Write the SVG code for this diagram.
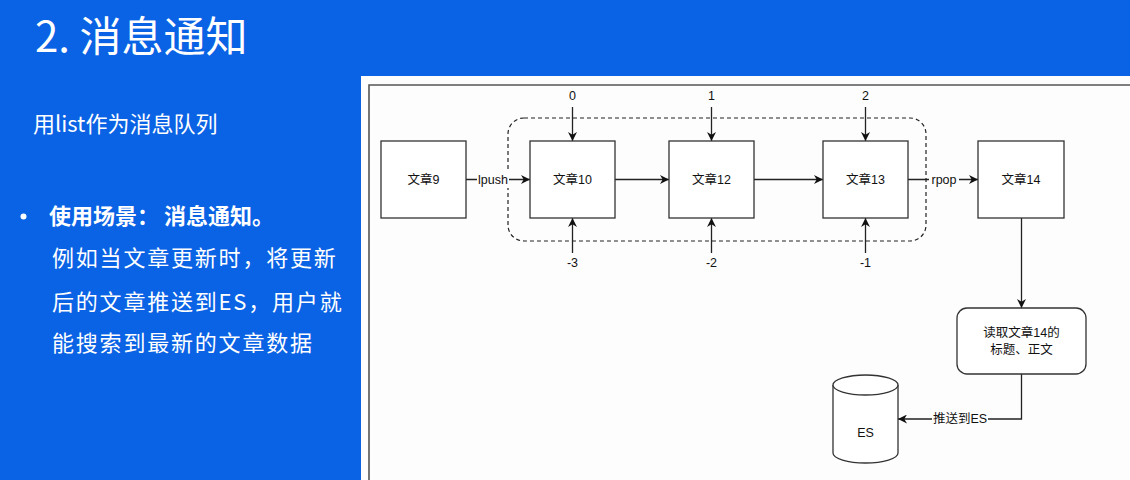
<svg xmlns="http://www.w3.org/2000/svg" width="1130" height="480" viewBox="0 0 1130 480">
<defs>
<style>
.slide{font-family:"Noto Sans CJK SC","Noto Sans",sans-serif;fill:#ffffff}
.box{fill:#ffffff;stroke:#333333;stroke-width:1.3}
.lbl{font-family:"Liberation Sans","Noto Sans CJK SC",sans-serif;font-size:12.5px;fill:#111111;text-anchor:middle;dominant-baseline:central}
.edge{fill:none;stroke:#222222;stroke-width:1.3}
.elbl{font-family:"Liberation Sans","Noto Sans CJK SC",sans-serif;font-size:12.5px;fill:#111111;text-anchor:middle;dominant-baseline:central}
</style>
<marker id="arr" viewBox="0 0 10 10" refX="10" refY="5" markerWidth="9" markerHeight="9" markerUnits="userSpaceOnUse" orient="auto">
<path d="M0,0 L10,5 L0,10 L3,5 Z" fill="#111111"/>
</marker>
</defs>
<rect x="0" y="0" width="1130" height="480" fill="#0a62e4"/>
<g id="slide-text">
<text class="slide" x="35" y="52" font-size="42">2. 消息通知</text>
<text class="slide" x="33" y="132" font-size="22">用list作为消息队列</text>
<circle cx="23.5" cy="216.5" r="3" fill="#ffffff"/>
<text class="slide" x="49" y="224" font-size="22" font-weight="bold">使用场景： 消息通知。</text>
<text class="slide" x="52" y="266" font-size="22" letter-spacing="1.8">例如当文章更新时，将更新</text>
<text class="slide" x="52" y="310" font-size="22" letter-spacing="1.8">后的文章推送到ES，用户就</text>
<text class="slide" x="52" y="351" font-size="22" letter-spacing="1.8">能搜索到最新的文章数据</text>
</g>
<rect x="361" y="76" width="769" height="404" fill="#fdfdfd"/>
<path d="M369,480 V85 H1130" fill="none" stroke="#555555" stroke-width="1.6"/>
<g id="queue-frame">
<rect x="508" y="118" width="418" height="123" rx="16" ry="16" fill="none" stroke="#222222" stroke-width="1.2" stroke-dasharray="4 3"/>
</g>
<g id="connectors">
<path class="edge" d="M466,179.5 H530" marker-end="url(#arr)"/>
<path class="edge" d="M615,179.5 H669" marker-end="url(#arr)"/>
<path class="edge" d="M754,179.5 H823" marker-end="url(#arr)"/>
<path class="edge" d="M908,179.5 H978" marker-end="url(#arr)"/>
<path class="edge" d="M1021.5,218 V308" marker-end="url(#arr)"/>
<path class="edge" d="M1021.5,374 V419 H898" marker-end="url(#arr)"/>
<path class="edge" d="M572.5,107 V141" marker-end="url(#arr)"/>
<path class="edge" d="M711.5,107 V141" marker-end="url(#arr)"/>
<path class="edge" d="M865.5,107 V141" marker-end="url(#arr)"/>
<path class="edge" d="M572.5,253 V218" marker-end="url(#arr)"/>
<path class="edge" d="M711.5,253 V218" marker-end="url(#arr)"/>
<path class="edge" d="M865.5,253 V218" marker-end="url(#arr)"/>
<rect x="477" y="171" width="32" height="17" fill="#fdfdfd"/>
<text class="elbl" x="493" y="179.5">lpush</text>
<rect x="929" y="171" width="30" height="17" fill="#fdfdfd"/>
<text class="elbl" x="944" y="179.5">rpop</text>
<rect x="932" y="410" width="56" height="18" fill="#fdfdfd"/>
<text class="elbl" x="960" y="418.5">推送到ES</text>
<text class="elbl" x="572.5" y="96">0</text>
<text class="elbl" x="711.5" y="96">1</text>
<text class="elbl" x="865.5" y="96">2</text>
<text class="elbl" x="572.5" y="263">-3</text>
<text class="elbl" x="711.5" y="263">-2</text>
<text class="elbl" x="865.5" y="263">-1</text>
</g>
<g id="node-9">
<rect class="box" x="381" y="141" width="85" height="77"/>
<text class="lbl" x="423.5" y="179.5">文章9</text>
</g>
<g id="node-10">
<rect class="box" x="530" y="141" width="85" height="77"/>
<text class="lbl" x="572.5" y="179.5">文章10</text>
</g>
<g id="node-12">
<rect class="box" x="669" y="141" width="85" height="77"/>
<text class="lbl" x="711.5" y="179.5">文章12</text>
</g>
<g id="node-13">
<rect class="box" x="823" y="141" width="85" height="77"/>
<text class="lbl" x="865.5" y="179.5">文章13</text>
</g>
<g id="node-14">
<rect class="box" x="978" y="141" width="86" height="77"/>
<text class="lbl" x="1021" y="179.5">文章14</text>
</g>
<g id="node-read">
<rect class="box" x="957" y="308" width="129" height="66" rx="10" ry="10"/>
<text class="lbl" x="1021.5" y="333">读取文章14的</text>
<text class="lbl" x="1021.5" y="350">标题、正文</text>
</g>
<g id="node-es">
<path class="box" d="M833,385 A32.5,10 0 0 1 898,385 V453 A32.5,10 0 0 1 833,453 Z"/>
<path class="box" fill="none" d="M833,385 A32.5,10 0 0 0 898,385"/>
<text class="lbl" x="865.5" y="433">ES</text>
</g>
</svg>
